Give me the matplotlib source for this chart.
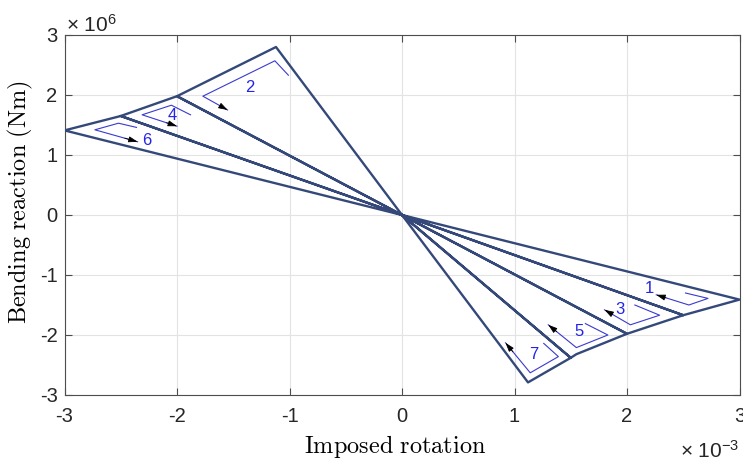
import numpy as np
import matplotlib
matplotlib.use('Agg')
import matplotlib.pyplot as plt

plt.rcParams['mathtext.fontset'] = 'cm'
plt.rcParams['font.family'] = ['Liberation Sans', 'DejaVu Sans']

# rotation (x 1e-3) and bending reaction (x 1e6) along the loading path
rot = [0, 3.0, 2.5, 0, -1.12, -2.0, 0, 2.5, 2.0, 0, -2.0, -2.5, 0,
       2.0, 1.55, 1.5, 0, -2.5, -3.0, 0, 1.5, 1.12, 0]
mom = [0, -1.41, -1.67, 0, 2.80, 1.98, 0, -1.67, -1.98, 0, 1.98, 1.65, 0,
       -1.98, -2.32, -2.38, 0, 1.65, 1.41, 0, -2.38, -2.79, 0]

# cycle markers: number, label position, guide polyline (last point = arrow tip)
cyc_num = ['1', '2', '3', '4', '5', '6', '7']
cyc_lab_x = [2.20, -1.35, 1.94, -2.04, 1.57, -2.27, 1.17]
cyc_lab_y = [-1.22, 2.13, -1.57, 1.65, -1.94, 1.24, -2.32]
cyc_path_x = [[2.52, 2.72, 2.55, 2.26],
              [-1.01, -1.13, -1.77, -1.55],
              [2.07, 2.29, 2.03, 1.80],
              [-1.88, -2.05, -2.31, -2.00],
              [1.63, 1.83, 1.55, 1.30],
              [-2.36, -2.52, -2.73, -2.35],
              [1.26, 1.39, 1.14, 0.92]]
cyc_path_y = [[-1.30, -1.39, -1.50, -1.33],
              [2.33, 2.57, 1.98, 1.75],
              [-1.50, -1.67, -1.83, -1.58],
              [1.67, 1.83, 1.67, 1.48],
              [-1.81, -2.00, -2.21, -1.83],
              [1.46, 1.53, 1.42, 1.22],
              [-2.14, -2.36, -2.63, -2.13]]

ticks = [-3, -2, -1, 0, 1, 2, 3]

fig = plt.figure(figsize=(7.43, 4.68), dpi=100)
ax = fig.add_axes([64.5 / 743, 73 / 468, 675 / 743, 360 / 468])

ax.plot(rot, mom, color='#34497a', lw=1.7, solid_joinstyle='round', zorder=3)

for num, lx, ly, px, py in zip(cyc_num, cyc_lab_x, cyc_lab_y, cyc_path_x, cyc_path_y):
    ax.plot(px, py, color='#3a3ad0', lw=0.8, zorder=4)
    # black head on the last leg
    x0, y0 = px[-2] + 0.7 * (px[-1] - px[-2]), py[-2] + 0.7 * (py[-1] - py[-2])
    ax.annotate('', xy=(px[-1], py[-1]), xytext=(x0, y0),
                arrowprops=dict(arrowstyle='-|>,head_length=0.55,head_width=0.18',
                                color='black', lw=0.6, shrinkA=0, shrinkB=0),
                zorder=5)
    ax.text(lx, ly, num, color='#2424e6', fontsize=12, ha='center', va='center', zorder=5)

ax.set_xlim(-3, 3)
ax.set_ylim(-3, 3)
ax.set_xticks(ticks)
ax.set_yticks(ticks)
ax.set_xticklabels([str(t) for t in ticks])
ax.set_yticklabels([str(t) for t in ticks])
ax.grid(True, color='#e3e3e3', lw=0.8)
ax.set_axisbelow(True)
for s in ax.spines.values():
    s.set_color('#4d4d4d')
    s.set_linewidth(0.8)
ax.tick_params(direction='in', length=5, width=0.8, color='#4d4d4d',
               top=True, right=True, labelsize=14.5, labelcolor='#262626')
ax.tick_params(axis='x', pad=9)
ax.tick_params(axis='y', pad=5)

ax.set_xlabel(r'$\mathrm{Imposed\ rotation}$', fontsize=17.5, va='baseline')
ax.xaxis.set_label_coords(0.49, -0.161)
ax.set_ylabel(r'$\mathrm{Bending\ reaction\ (Nm)}$', fontsize=17.5, va='center')
ax.yaxis.set_label_coords(-0.066, 0.537)

ax.text(0.002, 1.008, r'× $\mathregular{10^{6}}$', transform=ax.transAxes,
        fontsize=15, color='#262626', ha='left', va='baseline')
ax.text(1.0, -0.175, r'× $\mathregular{10^{-3}}$', transform=ax.transAxes,
        fontsize=15, color='#262626', ha='right', va='baseline')

fig.savefig('out.png', dpi=100)
